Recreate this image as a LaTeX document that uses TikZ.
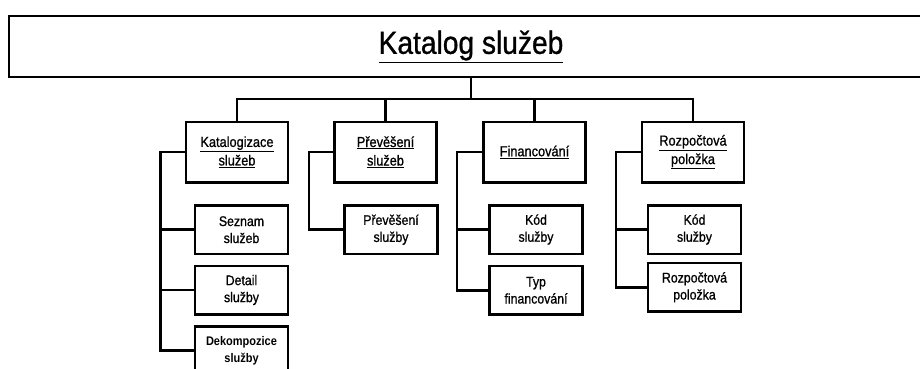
\documentclass[tikz,border=0pt]{standalone}
\usepackage{fontspec}
\setmainfont{Liberation Sans}[FakeStretch=0.88]
% a slightly heavier cut for the box labels
\newfontfamily\labelfont{Liberation Sans}[FakeStretch=0.88,FakeBold=0.9]
\begin{document}
\begin{tikzpicture}[x=1pt,y=-1pt,
  box/.style={draw=black,line width=2.5pt,fill=white,align=center,inner sep=0pt},
  lvl/.style={box,minimum width=102pt,minimum height=60.5pt,font=\labelfont\fontsize{14.5}{18.5}\selectfont},
  leaf/.style={box,minimum width=93pt,minimum height=48.5pt,font=\labelfont\fontsize{14}{17}\selectfont},
  link/.style={draw=black,line width=2.5pt}]
\clip (0,0) rectangle (920,369);

% root
\node[box,minimum width=924pt,minimum height=61pt,font=\labelfont\fontsize{32}{38}\selectfont]
  (top) at (471,46.5) {\underline{Katalog služeb}};

% first level
\node[lvl] (kat) at (237,152)   {\underline{Katalogizace}\\\underline{služeb}};
\node[lvl] (pre) at (385.5,152) {\underline{Převěšení}\\\underline{služeb}};
\node[lvl] (fin) at (534.5,152) {\underline{Financování}};
\node[lvl] (roz) at (693,152)   {\underline{Rozpočtová}\\\underline{položka}};

% leaves
\node[leaf] (sez) at (241.5,229.7) {Seznam\\služeb};
\node[leaf] (det) at (241.5,290)   {Detail\\služby};
\node[leaf,font=\fontsize{12.5}{17}\selectfont\bfseries] (dek) at (241.5,350.7) {Dekompozice\\služby};
\node[leaf] (prs) at (391,229.7)   {Převěšení\\služby};
\node[leaf] (kd1) at (536,229.5)   {Kód\\služby};
\node[leaf] (typ) at (536,290.3)   {Typ\\financování};
\node[leaf] (kd2) at (694.5,229.5) {Kód\\služby};
\node[leaf] (rzp) at (694.5,287.3) {Rozpočtová\\položka};

% bus from the root to the first level
\coordinate (bus) at (471,99);
\draw[link] (top.south) -- (bus);
\draw[link] (kat.north) -- (kat.north |- bus) -- (roz.north |- bus) -- (roz.north);
\draw[link] (pre.north) -- (pre.north |- bus);
\draw[link] (fin.north) -- (fin.north |- bus);

% spines down to the leaves
\coordinate (ks) at (160.7,152);
\coordinate (ps) at (309,152);
\coordinate (fs) at (457,152);
\coordinate (rs) at (616,152);

\draw[link] (kat.west) -- (ks) |- (dek.west);
\draw[link] (ks |- sez.west) -- (sez.west);
\draw[link] (ks |- det.west) -- (det.west);

\draw[link] (pre.west) -- (ps) |- (prs.west);

\draw[link] (fin.west) -- (fs) |- (typ.west);
\draw[link] (fs |- kd1.west) -- (kd1.west);

\draw[link] (roz.west) -- (rs) |- (rzp.west);
\draw[link] (rs |- kd2.west) -- (kd2.west);
\end{tikzpicture}
\end{document}
